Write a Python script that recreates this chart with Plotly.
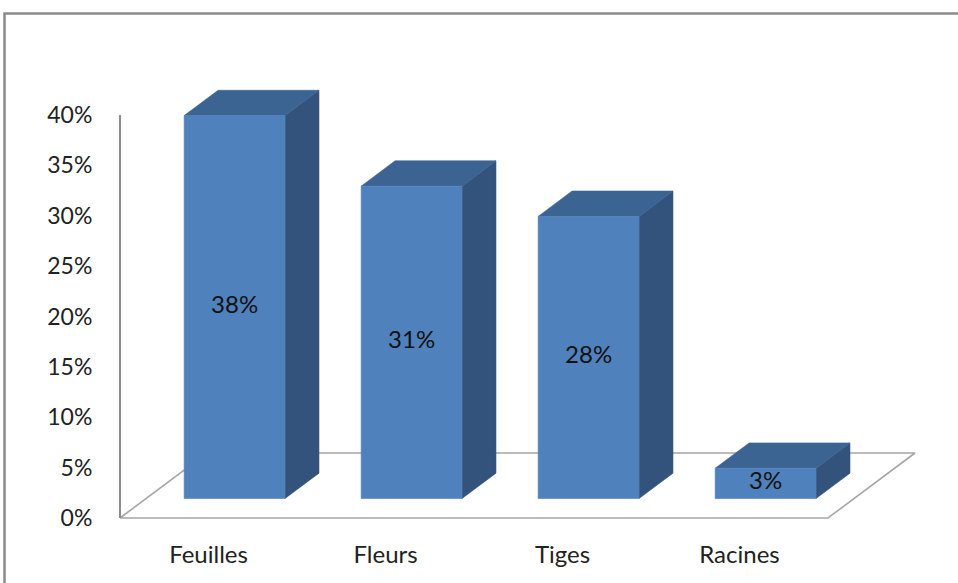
import plotly.graph_objects as go

# Répartition par organe de la plante
categories = ["Feuilles", "Fleurs", "Tiges", "Racines"]
values = [38, 31, 28, 3]
value_labels = ["38%", "31%", "28%", "3%"]
y_ticks = [0, 5, 10, 15, 20, 25, 30, 35, 40]
y_tick_labels = ["0%", "5%", "10%", "15%", "20%", "25%", "30%", "35%", "40%"]

# Pseudo-3D projection: a point (x, v, depth) with depth in [0, 1]
# is shifted right and up as it goes back into the floor.
DEPTH_X = 0.4915      # category units at full depth
DEPTH_Y = 6.45        # percent units at full depth
BAR_FRONT = 0.30      # depth of the bar front face
BAR_BACK = 0.69       # depth of the bar back face
BAR_HALF = 0.285      # half bar width, category units
Y_MAX = 40


def proj(x, v, d):
    return x + d * DEPTH_X, v + d * DEPTH_Y


def poly(points):
    xs, ys = [], []
    for x, v, d in points:
        px, py = proj(x, v, d)
        xs.append(px)
        ys.append(py)
    xs.append(xs[0])
    ys.append(ys[0])
    return xs, ys


FRONT = "#4F81BD"
TOP = "#3C6492"
SIDE = "#34537C"
FLOOR_LINE = "#A6A6A6"
AXIS_LINE = "#8C8C8C"
FONT = "Lato"

fig = go.Figure()

# floor outline
n = len(categories)
fx, fy = poly([(0, 0, 0), (n, 0, 0), (n, 0, 1), (0, 0, 1)])
fig.add_trace(go.Scatter(x=fx, y=fy, mode="lines",
                         line=dict(color=FLOOR_LINE, width=1.6),
                         hoverinfo="skip", showlegend=False))

# vertical value axis on the front-left edge
ax_x, ax_y = zip(proj(0, 0, 0), proj(0, Y_MAX, 0))
fig.add_trace(go.Scatter(x=list(ax_x), y=list(ax_y), mode="lines",
                         line=dict(color=AXIS_LINE, width=2),
                         hoverinfo="skip", showlegend=False))


def faces(kind):
    xs, ys = [], []
    for i, v in enumerate(values):
        c = i + 0.5
        l, r = c - BAR_HALF, c + BAR_HALF
        if kind == "front":
            pts = [(l, 0, BAR_FRONT), (r, 0, BAR_FRONT), (r, v, BAR_FRONT), (l, v, BAR_FRONT)]
        elif kind == "top":
            pts = [(l, v, BAR_FRONT), (r, v, BAR_FRONT), (r, v, BAR_BACK), (l, v, BAR_BACK)]
        else:
            pts = [(r, 0, BAR_FRONT), (r, 0, BAR_BACK), (r, v, BAR_BACK), (r, v, BAR_FRONT)]
        px, py = poly(pts)
        xs += px + [None]
        ys += py + [None]
    return xs, ys


for kind, color in (("side", SIDE), ("top", TOP), ("front", FRONT)):
    xs, ys = faces(kind)
    fig.add_trace(go.Scatter(x=xs, y=ys, mode="lines", fill="toself",
                             fillcolor=color, line=dict(color=color, width=0.6),
                             hoverinfo="skip", showlegend=False))

# value labels centred on the front faces
lab_x, lab_y = [], []
for i, v in enumerate(values):
    px, py = proj(i + 0.5, v / 2, BAR_FRONT)
    lab_x.append(px)
    lab_y.append(py)
fig.add_trace(go.Scatter(x=lab_x, y=lab_y, mode="text", text=value_labels,
                         textfont=dict(family=FONT, size=24, color="#111111"),
                         hoverinfo="skip", showlegend=False))

# outer chart frame
fig.add_shape(type="rect", xref="paper", yref="paper",
              x0=-0.1324, x1=1.2, y0=-0.3, y1=0.9741,
              line=dict(color="#8A8A8A", width=2.5), fillcolor="rgba(0,0,0,0)")

fig.update_layout(
    width=958, height=583,
    margin=dict(l=116, r=0, t=0, b=61),
    paper_bgcolor="white", plot_bgcolor="white",
    font=dict(family=FONT, size=23, color="#222222"),
    xaxis=dict(range=[-0.0226, 4.7345], showgrid=False, zeroline=False,
               showline=False, tickmode="array",
               tickvals=[i + 0.5 for i in range(n)], ticktext=categories,
               tickfont=dict(size=24),
               ticks="outside", ticklen=11, tickcolor="rgba(0,0,0,0)",
               fixedrange=True),
    yaxis=dict(range=[-0.397, 51.41], showgrid=False, zeroline=False,
               showline=False, tickmode="array", tickvals=y_ticks,
               ticktext=y_tick_labels, ticks="outside", ticklen=18,
               tickcolor="rgba(0,0,0,0)", fixedrange=True),
)

fig.write_html("out.html")
